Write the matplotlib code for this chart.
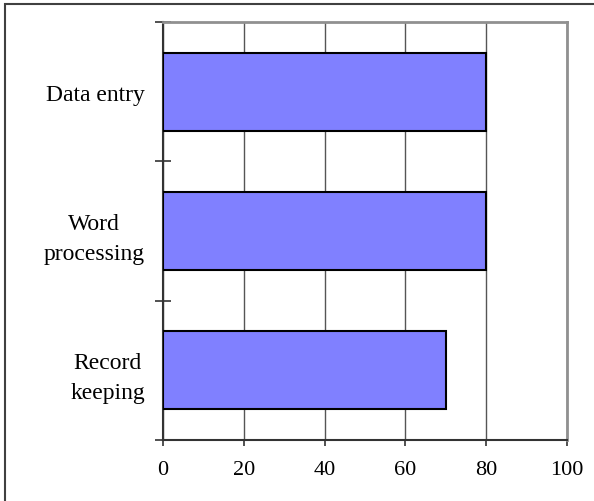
import matplotlib.pyplot as plt
from matplotlib.patches import Rectangle

categories = ["Data entry", "Word\nprocessing", "Record\nkeeping"]
values = [80, 80, 70]
xticks = [0, 20, 40, 60, 80, 100]

plt.rcParams['font.family'] = ['Liberation Serif', 'DejaVu Serif']

fig = plt.figure(figsize=(5.94, 5.02), dpi=100)
ax = fig.add_axes([163/594, 61/502, 404/594, 418/502])

# outer frame of the chart
fig.patches.append(Rectangle((5/594, -0.1), 1.2, (502-5)/502 + 0.1, transform=fig.transFigure,
                             fill=False, edgecolor="#404040", linewidth=1.5))

pos = list(range(len(categories)))
ax.barh(pos, values, height=0.56, color="#8080FF", edgecolor="black", linewidth=1.5, zorder=3)

ax.set_xlim(0, 100)
ax.set_ylim(2.5, -0.5)
ax.set_xticks(xticks)
ax.set_xticklabels([str(v) for v in xticks], fontsize=16)
ax.xaxis.grid(True, color="#555555", linewidth=1, zorder=0)

ax.set_yticks(pos)
ax.set_yticklabels(categories, fontsize=17, multialignment="center", linespacing=1.6)
ax.tick_params(axis="y", which="major", length=0, pad=13)
ax.set_yticks([-0.5, 0.5, 1.5, 2.5], minor=True)
ax.tick_params(axis="y", which="minor", direction="inout", length=11.5, width=1.2, color="#333333")
ax.tick_params(axis="x", direction="out", length=4.5, width=1.2, color="#333333", pad=10)

ax.spines["left"].set_color("#333333")
ax.spines["left"].set_linewidth(1.5)
ax.spines["bottom"].set_color("#333333")
ax.spines["bottom"].set_linewidth(1.5)
ax.spines["top"].set_color("#909090")
ax.spines["top"].set_linewidth(2)
ax.spines["right"].set_color("#909090")
ax.spines["right"].set_linewidth(2)

plt.savefig("out.png", dpi=100)
